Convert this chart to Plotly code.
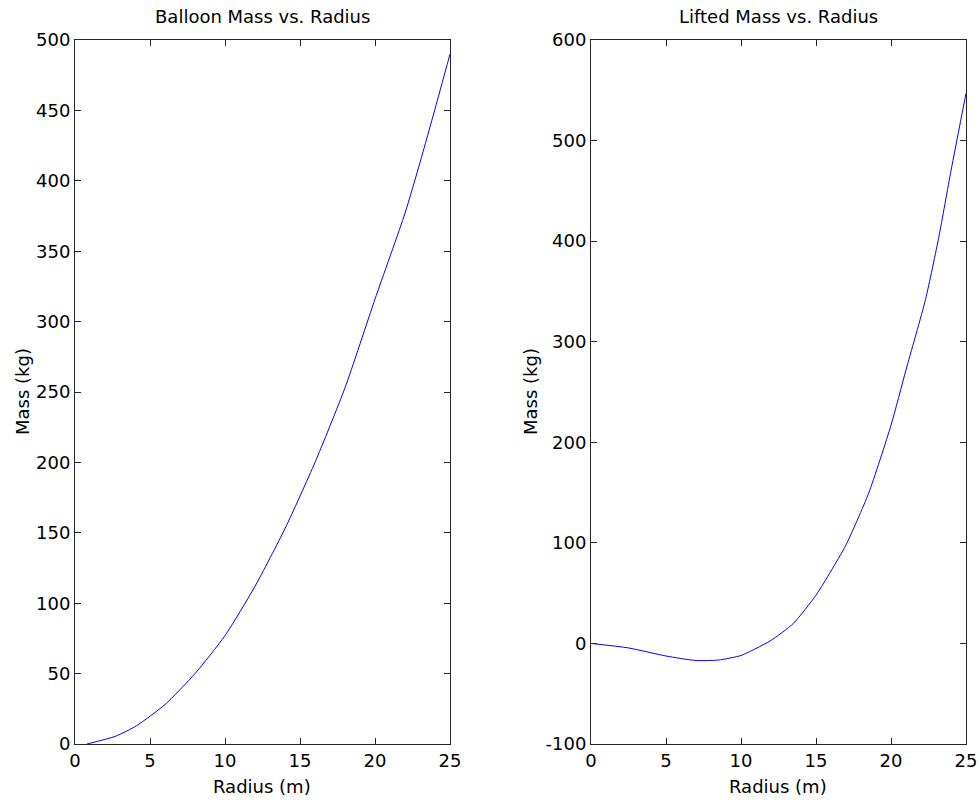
import plotly.graph_objects as go

# Balloon mass vs radius
r_balloon = [0.8, 2.7, 4.1, 6, 8, 10, 12, 14, 16, 18, 20, 22, 23, 24, 25]
m_balloon = [0, 5.5, 13, 28, 50, 77, 112, 153, 200, 253, 316, 377, 413, 451, 490]

# Lifted mass vs radius
r_lifted = [0, 2.5, 5, 7, 8.5, 10, 11, 12, 13.5, 15, 16, 17, 18.5, 20, 21, 22.3, 23.2, 24, 25]
m_lifted = [0, -4.5, -12.5, -17, -16.5, -12, -5, 3, 20, 48, 72, 98, 149, 217, 272, 342, 405, 470, 547]

x_ticks = [0, 5, 10, 15, 20, 25]
y1_ticks = [0, 50, 100, 150, 200, 250, 300, 350, 400, 450, 500]
y2_ticks = [-100, 0, 100, 200, 300, 400, 500, 600]
y2_labels = ["-100", "0", "100", "200", "300", "400", "500", "600"]

W, H = 980, 800
FONT = "DejaVu Sans, Arial, sans-serif"
FS = 18

def px(x):
    return x / W

def py(y):
    return 1 - y / H

fig = go.Figure()
fig.add_trace(go.Scatter(x=r_balloon, y=m_balloon, mode="lines",
                         line=dict(color="#0000ff", width=1, shape="spline", smoothing=0.6),
                         xaxis="x", yaxis="y"))
fig.add_trace(go.Scatter(x=r_lifted, y=m_lifted, mode="lines",
                         line=dict(color="#0000ff", width=1, shape="spline", smoothing=0.6),
                         xaxis="x2", yaxis="y2"))

ax_common = dict(showgrid=False, zeroline=False, showline=True, linecolor="#262626",
                 linewidth=1, mirror="ticks", ticks="inside", ticklen=6, automargin=False,
                 tickcolor="#262626", tickfont=dict(family=FONT, size=FS, color="black"))

ydom = [py(744), py(40)]
fig.update_layout(
    width=W, height=H, margin=dict(l=0, r=0, t=0, b=0, pad=0, autoexpand=False),
    paper_bgcolor="white", plot_bgcolor="white", showlegend=False,
    font=dict(family=FONT, size=FS, color="black"),
    xaxis=dict(domain=[px(75), px(450)], range=[0, 25], tickvals=x_ticks, anchor="y", **ax_common),
    yaxis=dict(domain=ydom, range=[0, 500], tickvals=y1_ticks, anchor="x", **ax_common),
    xaxis2=dict(domain=[px(591), px(966)], range=[0, 25], tickvals=x_ticks, anchor="y2", **ax_common),
    yaxis2=dict(domain=ydom, range=[-100, 600], tickvals=y2_ticks, ticktext=y2_labels,
                anchor="x2", **ax_common),
)

def ann(text, xp, yp, angle=0):
    fig.add_annotation(text=text, x=px(xp), y=py(yp), xref="paper", yref="paper",
                       showarrow=False, xanchor="center", yanchor="middle", textangle=angle,
                       font=dict(family=FONT, size=FS, color="black"))

ann("Balloon Mass vs. Radius", 262, 17)
ann("Lifted Mass vs. Radius", 778, 17)
ann("Radius (m)", 262, 786)
ann("Radius (m)", 778, 786)
ann("Mass (kg)", 22, 392, -90)
ann("Mass (kg)", 530, 392, -90)

fig.write_html("out.html", config={"displayModeBar": False},
               post_script="document.body.style.margin='0';document.body.style.overflow='hidden';")
